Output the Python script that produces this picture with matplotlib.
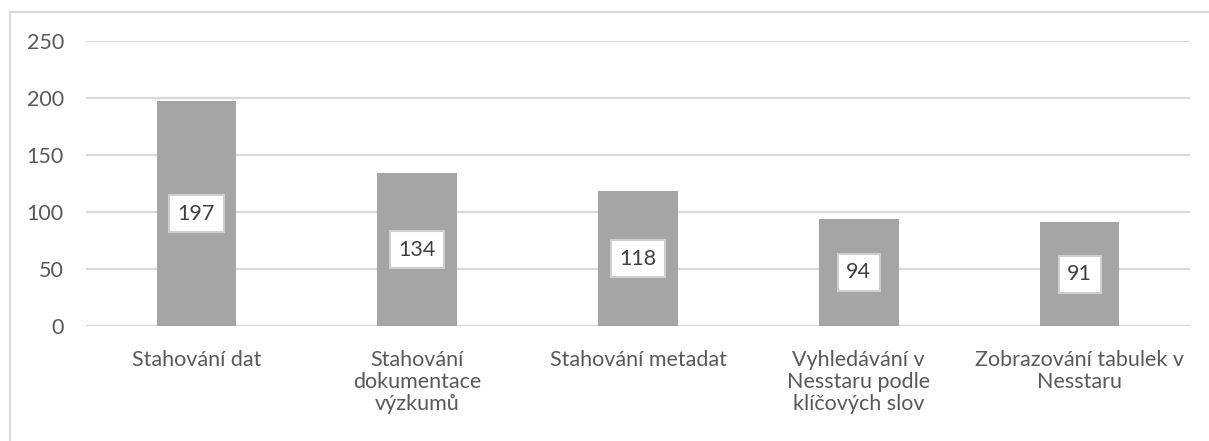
import matplotlib
matplotlib.use("Agg")
import matplotlib.pyplot as plt
from matplotlib.lines import Line2D

plt.rcParams['font.family'] = ['Lato', 'DejaVu Sans']

# data
categories = ["Stahování dat", "Stahování\ndokumentace\nvýzkumů", "Stahování metadat",
              "Vyhledávání v\nNesstaru podle\nklíčových slov", "Zobrazování tabulek v\nNesstaru"]
values = [197, 134, 118, 94, 91]
yticks = [0, 50, 100, 150, 200, 250]

bar_col = "#A5A5A5"
txt_col = "#595959"
grid_col = "#D9D9D9"

fig = plt.figure(figsize=(12.09, 4.41), dpi=100)
ax = fig.add_axes([86/1209, 1 - 326/441, (1190 - 86)/1209, (326 - 41)/441])

x = list(range(len(values)))
ax.bar(x, values, width=0.36, color=bar_col, zorder=2)
for xi, v in zip(x, values):
    ax.text(xi, v / 2, str(v), ha="center", va="center", fontsize=15.5, color="#404040", zorder=3,
            bbox=dict(boxstyle="square,pad=0.4", fc="white", ec="#CFCFCF", lw=1.5))

ax.set_xlim(-0.5, len(values) - 0.5)
ax.set_ylim(0, 250)
ax.set_yticks(yticks)
ax.set_yticklabels([str(t) for t in yticks])
ax.set_xticks(x)
ax.set_xticklabels(categories, linespacing=1.15)
ax.tick_params(axis="both", length=0, labelsize=15.5, colors=txt_col)
ax.tick_params(axis="y", pad=16)
ax.tick_params(axis="x", pad=17)
ax.yaxis.grid(True, color=grid_col, lw=1.6, zorder=0)
for s in ax.spines.values():
    s.set_visible(False)
ax.axhline(0, color=grid_col, lw=1.6, zorder=1)

# chart outline (cut at right and bottom edges)
fig.add_artist(Line2D([10/1209, 1], [1 - 12/441, 1 - 12/441], color=grid_col, lw=1.5))
fig.add_artist(Line2D([10/1209, 10/1209], [0, 1 - 12/441], color=grid_col, lw=1.5))

fig.savefig("out.png", dpi=100)
